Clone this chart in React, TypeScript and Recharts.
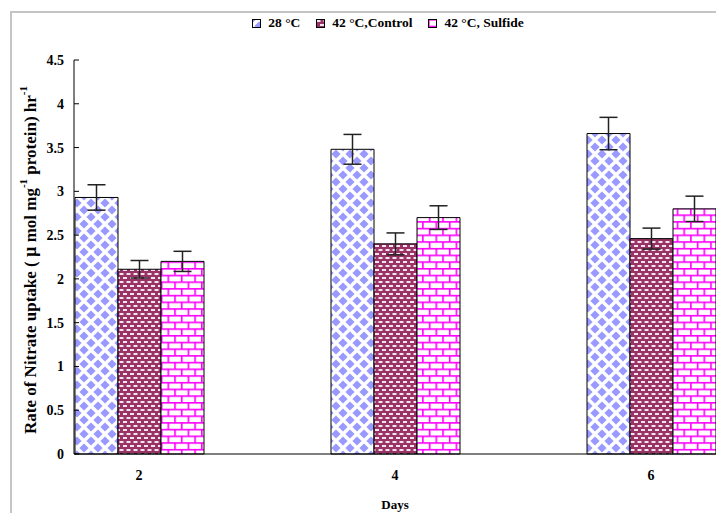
import React from 'react';
import { BarChart, Bar, XAxis, YAxis, ErrorBar, Legend } from 'recharts';

const days = ['2', '4', '6'];
const temp28 = [2.93, 3.48, 3.66];
const control42 = [2.11, 2.4, 2.46];
const sulfide42 = [2.2, 2.7, 2.8];
const err28 = [0.145, 0.17, 0.185];
const errControl = [0.1, 0.125, 0.12];
const errSulfide = [0.115, 0.135, 0.145];
const yTicks = [0, 0.5, 1, 1.5, 2, 2.5, 3, 3.5, 4, 4.5];

const seriesNames = ['28 °C', '42 °C,Control', '42 °C, Sulfide'];

const data = days.map((d, i) => ({
  day: d,
  t28: temp28[i],
  ctrl: control42[i],
  sulf: sulfide42[i],
  e28: err28[i],
  eCtrl: errControl[i],
  eSulf: errSulfide[i],
}));

const FONT = '"Liberation Serif", "Times New Roman", serif';
const patternIds = ['pDiamond', 'pDots', 'pBrick'];

function Patterns() {
  return (
    <defs>
      <pattern id="pDiamond" width={14} height={14} patternUnits="userSpaceOnUse">
        <rect width={14} height={14} fill="#fff" />
        <polygon points="7,2.4 11.6,7 7,11.6 2.4,7" fill="#9999ff" />
        <polygon points="0,-4.6 4.6,0 0,4.6 -4.6,0" fill="#9999ff" />
        <polygon points="14,-4.6 18.6,0 14,4.6 9.4,0" fill="#9999ff" />
        <polygon points="0,9.4 4.6,14 0,18.6 -4.6,14" fill="#9999ff" />
        <polygon points="14,9.4 18.6,14 14,18.6 9.4,14" fill="#9999ff" />
      </pattern>
      <pattern id="pDots" width={7} height={8} patternUnits="userSpaceOnUse">
        <rect width={7} height={8} fill="#993366" />
        <rect x={0.5} y={1} width={4} height={2} fill="#f4e4ee" />
        <rect x={4} y={5} width={3} height={2} fill="#f4e4ee" />
        <rect x={0} y={5} width={1} height={2} fill="#f4e4ee" />
      </pattern>
      <pattern id="pBrick" width={13.4} height={13.4} patternUnits="userSpaceOnUse">
        <rect width={13.4} height={13.4} fill="#fff" />
        <rect x={0} y={0} width={13.4} height={1.6} fill="#ff00ff" />
        <rect x={0} y={6.7} width={13.4} height={1.6} fill="#ff00ff" />
        <rect x={0} y={0} width={1.6} height={6.7} fill="#ff00ff" />
        <rect x={6.7} y={6.7} width={1.6} height={6.7} fill="#ff00ff" />
      </pattern>
    </defs>
  );
}

function LegendContent() {
  return (
    <div style={{ display: 'flex', justifyContent: 'center', gap: 16, fontFamily: FONT, fontWeight: 'bold', fontSize: 13.5 }}>
      {seriesNames.map((name, i) => (
        <div key={name} style={{ display: 'flex', alignItems: 'center', gap: 7 }}>
          <svg width={9} height={9}>
            <rect x={0.5} y={0.5} width={8} height={8} fill={`url(#${patternIds[i]})`} stroke="#000" strokeWidth={1} />
          </svg>
          <span>{name}</span>
        </div>
      ))}
    </div>
  );
}

function YLabel() {
  return (
    <text
      x={30}
      y={260}
      transform="rotate(-90, 30, 260)"
      textAnchor="middle"
      dominantBaseline="central"
      fontFamily={FONT}
      fontWeight="bold"
      fontSize={17}
      fill="#000"
    >
      {'Rate of Nitrate uptake ( '}
      <tspan fontSize={18}>µ</tspan>
      {' mol mg'}
      <tspan fontSize={11} dy={-7}>-1</tspan>
      <tspan dy={7}>{'  protein) hr'}</tspan>
      <tspan fontSize={11} dy={-7}>-1</tspan>
    </text>
  );
}

function XLabel() {
  return (
    <text x={395} y={504} textAnchor="middle" dominantBaseline="central" fontFamily={FONT} fontWeight="bold" fontSize={13} fill="#000">
      Days
    </text>
  );
}

export default function App() {
  const tickStyle = { fontFamily: FONT, fontWeight: 'bold', fontSize: 14, fill: '#000' };
  return (
    <div style={{ position: 'fixed', left: 0, top: 0, width: 716, height: 513, overflow: 'hidden', background: '#fff' }}>
      <div
        style={{
          position: 'absolute',
          left: 10,
          top: 11,
          width: 740,
          height: 540,
          border: '2px solid #c4c4c4',
        }}
      />
      <div style={{ position: 'absolute', left: 0, top: 0 }}>
        <BarChart
          width={716}
          height={513}
          data={data}
          margin={{ top: 60, right: 0, left: 0, bottom: 0 }}
          barGap={0}
        >
          <Patterns />
          <Legend
            layout="horizontal"
            verticalAlign="middle"
            align="center"
            wrapperStyle={{ top: 15, left: 30, width: 716 }}
            content={<LegendContent />}
          />
          <XAxis
            dataKey="day"
            height={59}
            padding={{ left: -63, right: -63 }}
            axisLine={{ stroke: '#000', strokeWidth: 1 }}
            tickLine={false}
            tickMargin={10}
            tick={tickStyle}
            label={{ content: () => <XLabel /> }}
          />
          <YAxis
            width={74}
            domain={[0, 4.5]}
            ticks={yTicks}
            interval={0}
            axisLine={{ stroke: '#000', strokeWidth: 1 }}
            tickLine={{ stroke: '#000' }}
            tickSize={-5}
            tickMargin={15}
            tick={tickStyle}
            label={{ content: () => <YLabel /> }}
          />
          <Bar dataKey="t28" name={seriesNames[0]} fill="url(#pDiamond)" stroke="#000" strokeWidth={1} barSize={43} isAnimationActive={false}>
            <ErrorBar dataKey="e28" width={9} stroke="#222" strokeWidth={1.5} />
          </Bar>
          <Bar dataKey="ctrl" name={seriesNames[1]} fill="url(#pDots)" stroke="#000" strokeWidth={1} barSize={43} isAnimationActive={false}>
            <ErrorBar dataKey="eCtrl" width={9} stroke="#222" strokeWidth={1.5} />
          </Bar>
          <Bar dataKey="sulf" name={seriesNames[2]} fill="url(#pBrick)" stroke="#000" strokeWidth={1} barSize={43} isAnimationActive={false}>
            <ErrorBar dataKey="eSulf" width={9} stroke="#222" strokeWidth={1.5} />
          </Bar>
        </BarChart>
      </div>
    </div>
  );
}
